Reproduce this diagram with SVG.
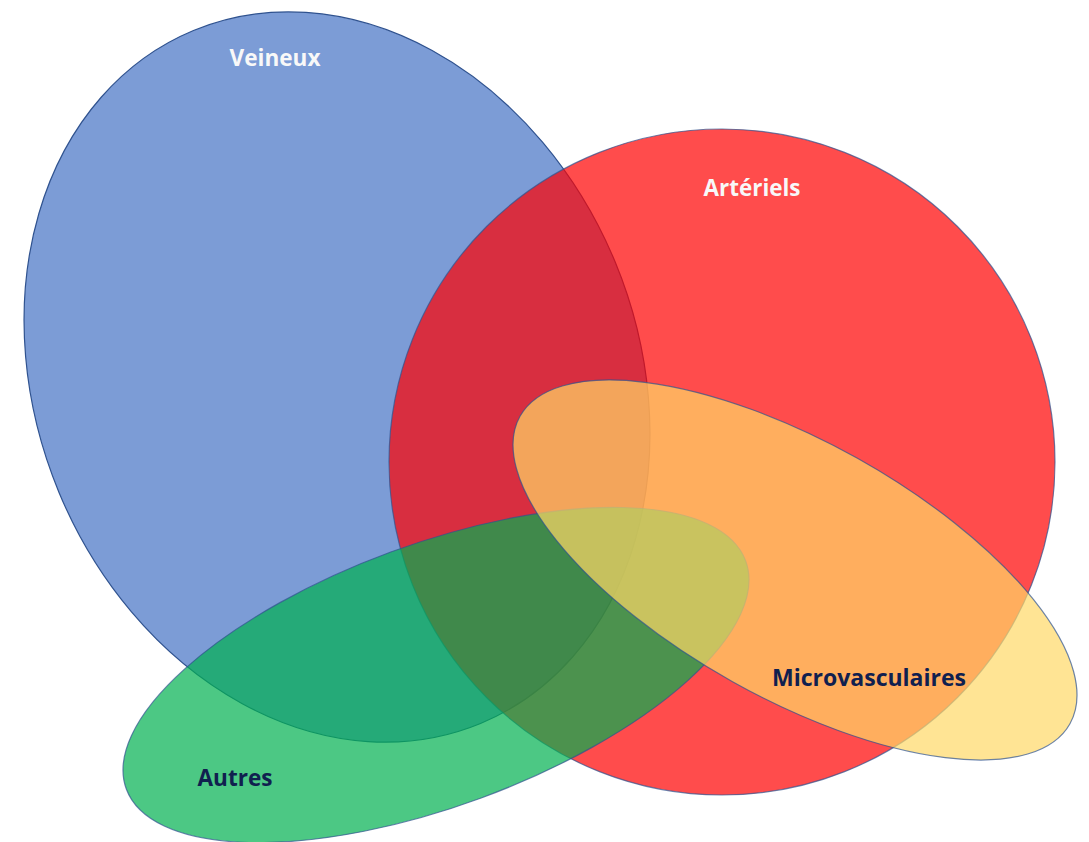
<svg xmlns="http://www.w3.org/2000/svg" width="1089" height="842" viewBox="0 0 1089 842">
<style>
.shape{stroke:#2F528F;stroke-width:1.2;}
.lbl{font-family:"Open Sans",Lato,"Liberation Sans",sans-serif;font-weight:bold;font-size:23px;text-anchor:middle;}
.light{fill:#F8F8F8;}
.dark{fill:#10204F;}
</style>
<rect width="1089" height="842" fill="#FFFFFF"/>
<g id="veineux">
<ellipse class="shape" cx="337" cy="377" rx="301" ry="375" transform="rotate(-22.5 337 377)" fill="#4472C4" fill-opacity="0.7"/>
</g>
<g id="arteriels">
<circle class="shape" cx="722" cy="462" r="333" fill="#FF0000" fill-opacity="0.7" stroke-opacity="0.7"/>
</g>
<g id="autres">
<ellipse class="shape" cx="436" cy="675" rx="330" ry="131" transform="rotate(-20.2 436 675)" fill="#00B050" fill-opacity="0.7" stroke-opacity="0.7"/>
</g>
<g id="microvasculaires">
<ellipse class="shape" cx="795" cy="570" rx="315" ry="128" transform="rotate(29.2 795 570)" fill="#FFD966" fill-opacity="0.7" stroke-opacity="0.7"/>
</g>
<g id="labels">
<text class="lbl light" x="275" y="66" textLength="91" lengthAdjust="spacingAndGlyphs">Veineux</text>
<text class="lbl light" x="752" y="196" textLength="97" lengthAdjust="spacingAndGlyphs">Artériels</text>
<text class="lbl dark" x="869" y="686" textLength="194" lengthAdjust="spacingAndGlyphs">Microvasculaires</text>
<text class="lbl dark" x="235" y="786" textLength="75" lengthAdjust="spacingAndGlyphs">Autres</text>
</g>
</svg>
